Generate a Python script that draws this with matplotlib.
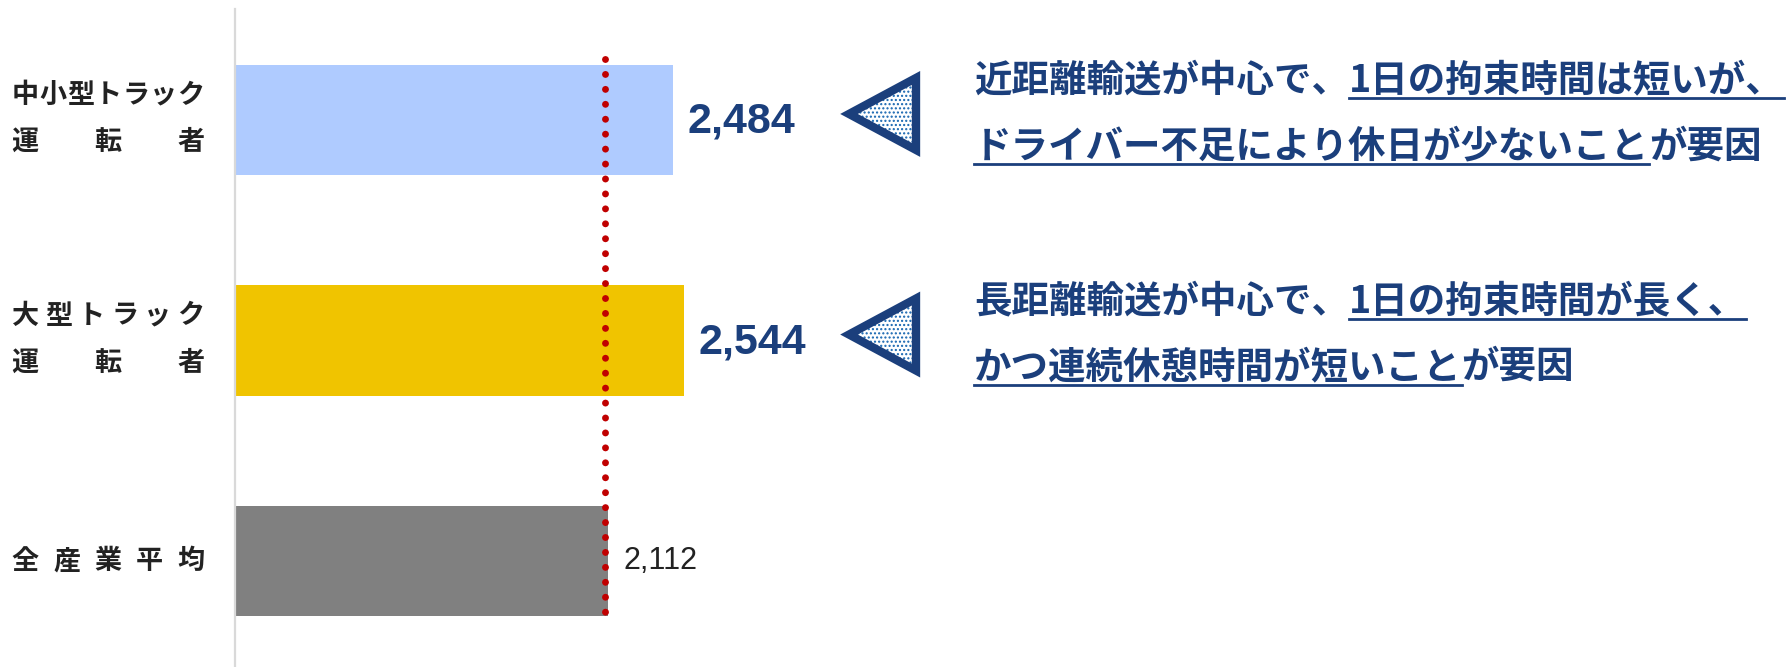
import matplotlib.pyplot as plt
from matplotlib.patches import Polygon
from matplotlib.lines import Line2D
from matplotlib.transforms import IdentityTransform

plt.rcParams['font.family'] = ['Noto Sans CJK JP', 'DejaVu Sans']

# data
categories = [["中小型トラック", "運転者"], ["大型トラック", "運転者"], ["全産業平均"]]
values = [2484, 2544, 2112]
value_labels = ["2,484", "2,544", "2,112"]
average = 2112
# each note: lines of (text, underlined) segments
notes = [
    [[("近距離輸送が中心で、", False), ("1日の拘束時間は短いが、", True)],
     [("ドライバー不足により休日が少ないこと", True), ("が要因", False)]],
    [[("長距離輸送が中心で、", False), ("1日の拘束時間が長く、", True)],
     [("かつ連続休憩時間が短いこと", True), ("が要因", False)]],
]

bar_colors = ['#AFCBFF', '#F0C400', '#808080']
navy = '#1B3F7C'
W, H = 1788, 667

fig = plt.figure(figsize=(W / 100, H / 100), dpi=100)
ax = fig.add_axes([235 / W, 0, 800 / W, 658 / H])
ax.barh(range(len(values)), values, height=0.5, color=bar_colors)
ax.set_xlim(0, 800 / 0.1765)
ax.set_ylim(2.48, -0.503)
for s in ['top', 'right', 'bottom']:
    ax.spines[s].set_visible(False)
ax.spines['left'].set_color('#D9D9D9')
ax.spines['left'].set_linewidth(1.6)
ax.set_xticks([])
ax.set_yticks([])

# average dotted line
ax.plot([average - 15, average - 15], [-0.276, 2.236], color='#C00000', lw=5,
        linestyle=(0, (0.001, 2.15)), dash_capstyle='round', zorder=3)

# value labels
for i, (v, lab) in enumerate(zip(values, value_labels)):
    if i < 2:
        ax.annotate(lab, (v, i), xytext=(14, -2), textcoords='offset pixels',
                    ha='left', va='center', fontsize=31, weight='bold', color=navy,
                    family='Liberation Sans')
    else:
        ax.annotate(lab, (v, i), xytext=(16, 0), textcoords='offset pixels',
                    ha='left', va='center', fontsize=22, color='#222222',
                    family='Liberation Sans')

ident = IdentityTransform()


def draw_spread(text, y, left=13, right=203, size=19.5):
    # place characters evenly between left and right (distributed)
    n = len(text)
    half = size * 100 / 72 * 0.45
    x0, x1 = left + half, right - half
    for k, ch in enumerate(text):
        x = x0 + (x1 - x0) * k / (n - 1) if n > 1 else (x0 + x1) / 2
        fig.text(x, y, ch, transform=ident, ha='center', va='center',
                 fontsize=size, weight='bold', color='#222222')


for i, lines in enumerate(categories):
    yc = ax.transData.transform((0, i))[1]
    if len(lines) == 1:
        draw_spread(lines[0], yc)
    else:
        draw_spread(lines[0], yc + 25)
        draw_spread(lines[1], yc - 22)

renderer = fig.canvas.get_renderer()
for i, note in enumerate(notes):
    yc = ax.transData.transform((0, i))[1]
    # triangle pointer
    tip_y = yc + 6
    tri = [(849, tip_y), (916, tip_y + 36), (916, tip_y - 36)]
    fig.add_artist(Polygon(tri, closed=True, transform=ident, facecolor='white',
                           edgecolor='#1565B0', hatch='....', lw=0))
    fig.add_artist(Polygon(tri, closed=True, transform=ident, facecolor='none',
                           edgecolor=navy, lw=6, joinstyle='miter'))
    line_y = [yc + 40, yc - 26]
    for ly, segs in zip(line_y, note):
        x = 974
        for txt, under in segs:
            t = fig.text(x, ly, txt, transform=ident, ha='left', va='center',
                         fontsize=27, weight='bold', color=navy)
            bb = t.get_window_extent(renderer)
            if under:
                fig.add_artist(Line2D([bb.x0, bb.x1], [ly - 18, ly - 18],
                                      transform=ident, color=navy, lw=2))
            x = bb.x1

fig.savefig('out.png', dpi=100)
